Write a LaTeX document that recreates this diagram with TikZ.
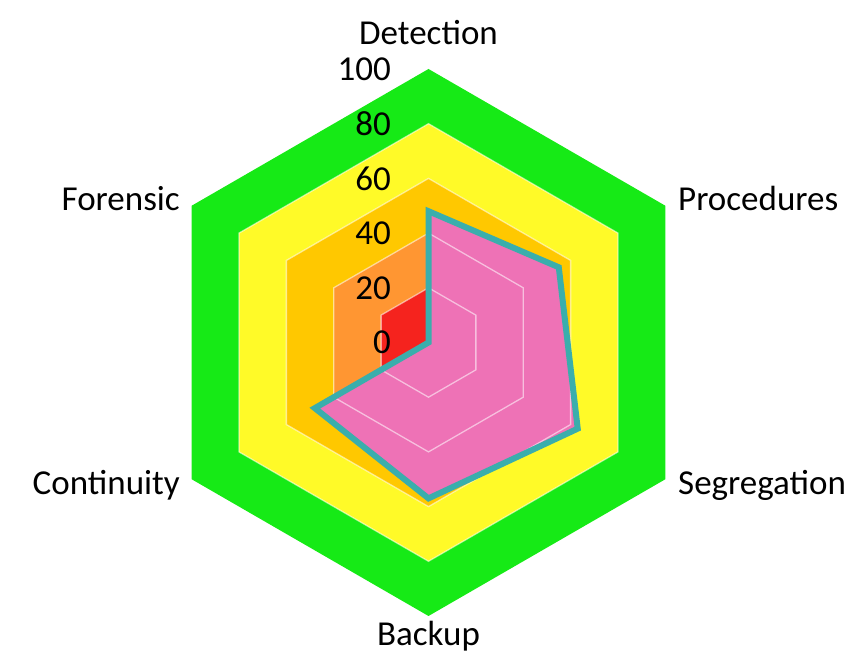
\documentclass[tikz,border=0pt]{standalone}
\usepackage{fontspec}
\setmainfont{Carlito}
\definecolor{bandgreen}{RGB}{22,234,22}
\definecolor{bandyellow}{RGB}{255,250,40}
\definecolor{bandgold}{RGB}{255,200,0}
\definecolor{bandorange}{RGB}{255,150,50}
\definecolor{bandred}{RGB}{245,35,30}
\definecolor{scorepink}{RGB}{238,114,182}
\definecolor{scoreteal}{RGB}{58,174,172}
\tikzset{
  gridhex/.style={draw=white, draw opacity=0.55, line width=1.3pt},
  scorefill/.style={fill=scorepink},
  scoreline/.style={draw=scoreteal, line width=6pt, line join=miter},
  axislabel/.style={inner sep=0pt, text=black},
  ticklabel/.style={inner sep=0pt, anchor=east, text=black}
}
\begin{document}
\begin{tikzpicture}[x=1pt, y=1pt, font=\fontsize{35}{42}\selectfont]
\useasboundingbox (0,0) rectangle (852,669);
\def\u{2.735}
\begin{scope}[shift={(428.5,326.5)}]
  % colour bands, from the outer ring inwards
  \foreach \lvl/\col in {100/bandgreen,80/bandyellow,60/bandgold,40/bandorange,20/bandred}{
    \fill[\col] (90:{\lvl*\u}) -- (30:{\lvl*\u}) -- (-30:{\lvl*\u}) -- (-90:{\lvl*\u})
      -- (-150:{\lvl*\u}) -- (150:{\lvl*\u}) -- cycle;
  }
  % score points on the six axes
  \coordinate (pDet) at (90:{48*\u});
  \coordinate (pPro) at (30:{55*\u});
  \coordinate (pSeg) at (-30:{63*\u});
  \coordinate (pBac) at (-90:{57*\u});
  \coordinate (pCon) at (-150:{48*\u});
  \coordinate (pFor) at (150:{0*\u});
  \fill[scorefill] (pDet) -- (pPro) -- (pSeg) -- (pBac) -- (pCon) -- (pFor) -- cycle;
  % hexagonal grid rings
  \foreach \lvl in {20,40,60,80}{
    \draw[gridhex] (90:{\lvl*\u}) -- (30:{\lvl*\u}) -- (-30:{\lvl*\u}) -- (-90:{\lvl*\u})
      -- (-150:{\lvl*\u}) -- (150:{\lvl*\u}) -- cycle;
  }
  \draw[scoreline] (pDet) -- (pPro) -- (pSeg) -- (pBac) -- (pCon) -- (pFor) -- cycle;
\end{scope}
% scale values
\foreach \v in {0,20,40,60,80,100}{
  \node[ticklabel] (tick\v) at (391,{326.5+\v*\u}) {\v};
}
% axis names
\node[axislabel, anchor=base] (lDet) at (428.5,624) {Detection};
\node[axislabel, anchor=base west] (lPro) at (678,458) {Procedures};
\node[axislabel, anchor=base west] (lSeg) at (678,174) {Segregation};
\node[axislabel, anchor=base] (lBac) at (428.5,23) {Backup};
\node[axislabel, anchor=base east] (lCon) at (180,174) {Continuity};
\node[axislabel, anchor=base east] (lFor) at (180,458) {Forensic};
\end{tikzpicture}
\end{document}
